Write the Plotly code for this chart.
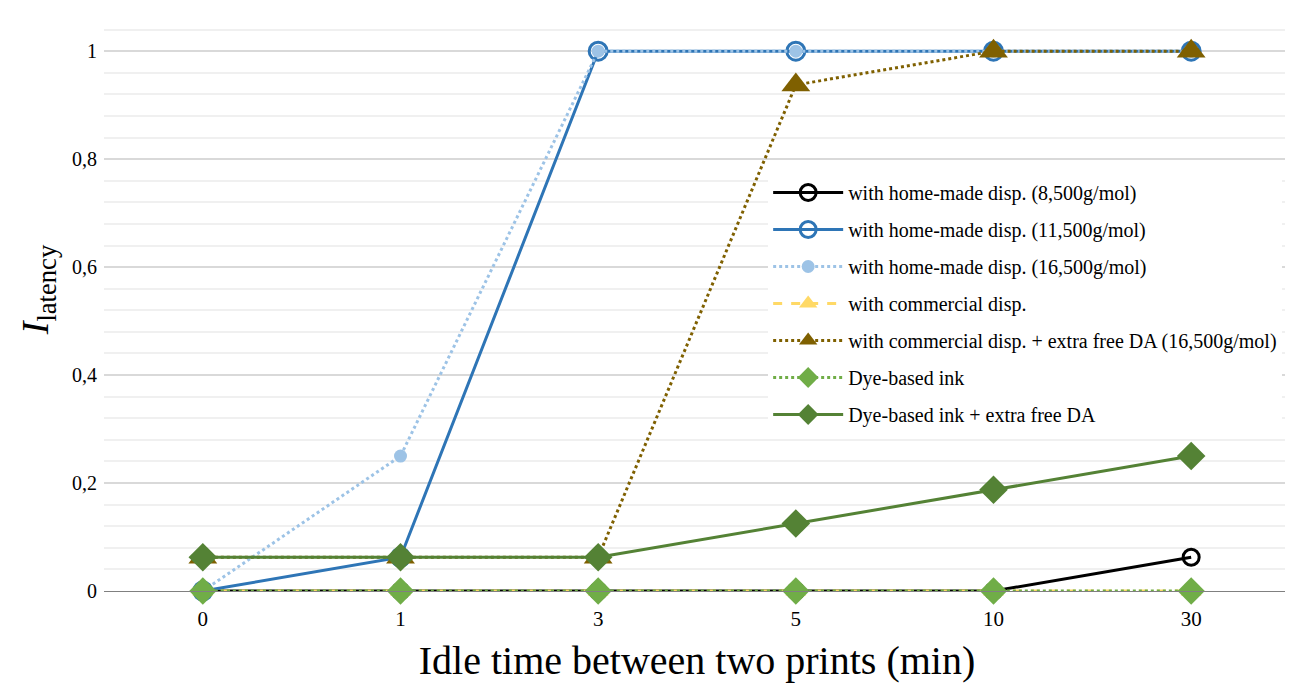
import plotly.graph_objects as go

categories = ["0", "1", "3", "5", "10", "30"]
series_names = [
    "with home-made disp. (8,500g/mol)",
    "with home-made disp. (11,500g/mol)",
    "with home-made disp. (16,500g/mol)",
    "with commercial disp.",
    "with commercial disp. + extra free DA (16,500g/mol)",
    "Dye-based ink",
    "Dye-based ink + extra free DA",
]
home_8500 = [0, 0, 0, 0, 0, 0.0625]
home_11500 = [0, 0.0625, 1, 1, 1, 1]
home_16500 = [0, 0.25, 1, 1, 1, 1]
commercial = [0, 0, 0, 0, 0, 0]
commercial_da = [0.0625, 0.0625, 0.0625, 0.9375, 1, 1]
dye = [0, 0, 0, 0, 0, 0]
dye_da = [0.0625, 0.0625, 0.0625, 0.125, 0.1875, 0.25]
y_ticks = [0, 0.2, 0.4, 0.6, 0.8, 1]
y_tick_labels = ["0", "0,2", "0,4", "0,6", "0,8", "1"]

styles = [
    dict(color="#000000", dash="solid", symbol="circle-open", size=16, mlw=3),
    dict(color="#2E75B6", dash="solid", symbol="circle-open", size=18, mlw=3),
    dict(color="#9DC3E6", dash="dot", symbol="circle", size=13, mlw=0),
    dict(color="#FFD966", dash="dash", symbol="triangle-up", size=18, mlw=0),
    dict(color="#7F6000", dash="dot", symbol="triangle-up", size=25, mlw=0),
    dict(color="#70AD47", dash="dot", symbol="diamond", size=21, mlw=0),
    dict(color="#548235", dash="solid", symbol="diamond", size=22, mlw=0),
]
data = [home_8500, home_11500, home_16500, commercial, commercial_da, dye, dye_da]

FONT = "Liberation Serif"
fig = go.Figure()
for i, (name, vals, st) in enumerate(zip(series_names, data, styles)):
    fig.add_trace(go.Scatter(
        x=categories, y=vals, name=name, mode="lines+markers",
        legendgroup=f"g{i}",
        line=dict(color=st["color"], width=3, dash=st["dash"]),
        marker=dict(symbol=st["symbol"], size=st["size"], color=st["color"],
                    line=dict(color=st["color"], width=st["mlw"])),
        cliponaxis=False,
    ))

fig.update_layout(
    width=1285, height=675,
    margin=dict(l=96, r=3, t=0, b=92),
    paper_bgcolor="white", plot_bgcolor="white",
    font=dict(family=FONT, color="#000000"),
    showlegend=True,
    legend=dict(x=0.56, y=0.717, xanchor="left", yanchor="top",
                font=dict(family=FONT, size=20, color="#000000"),
                bgcolor="rgba(255,255,255,1)", tracegroupgap=8,
                itemwidth=70),
    xaxis=dict(type="category", range=[-0.5, 5.5], showgrid=False,
               showline=True, linecolor="#808080", linewidth=1,
               ticks="", tickfont=dict(size=21, family=FONT),
               ticklabelstandoff=9,
               title=dict(text="Idle time between two prints (min)",
                          font=dict(size=40, family=FONT), standoff=15)),
    yaxis=dict(range=[0, 1.08], tickvals=y_ticks, ticktext=y_tick_labels,
               showgrid=True, gridcolor="#D9D9D9", gridwidth=1.5,
               zeroline=False, ticks="",
               tickfont=dict(size=20, family=FONT),
               minor=dict(dtick=0.04, tick0=0, showgrid=True, gridcolor="#F0F0F0", gridwidth=1.5),
               ticklabelstandoff=6),
)
fig.add_annotation(
    text="<i>I</i><sub>latency</sub>", xref="paper", yref="paper",
    x=-0.0556, y=0.516, xanchor="center", yanchor="middle", textangle=-90,
    showarrow=False, font=dict(size=38, family=FONT, color="#000000"),
)
fig.write_html("out.html")
